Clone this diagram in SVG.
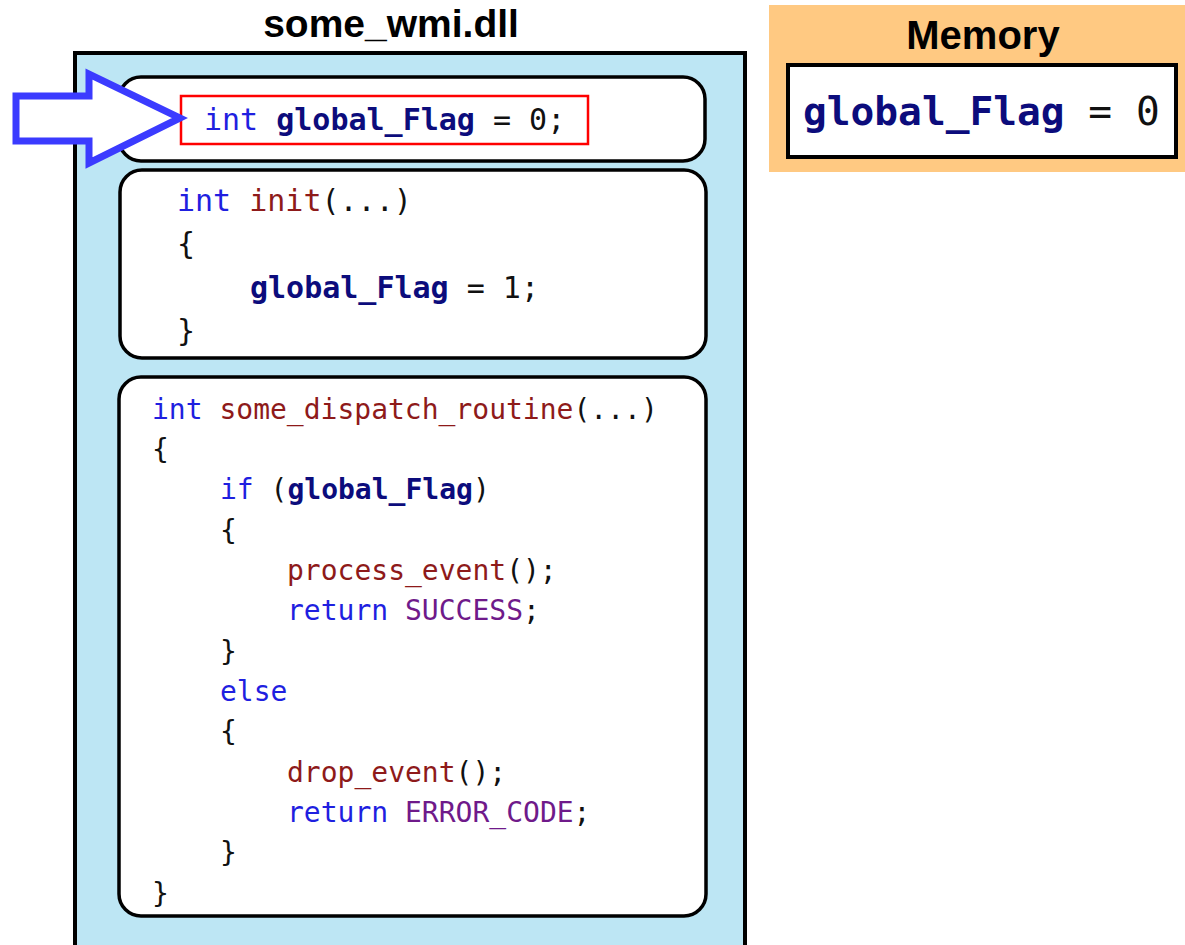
<svg xmlns="http://www.w3.org/2000/svg" width="1185" height="945" viewBox="0 0 1185 945">
<style>
.code{font-family:"DejaVu Sans Mono","Liberation Mono",monospace;white-space:pre}
.kw{fill:#1f1fe0}
.fn{fill:#8e1a1a}
.var{fill:#0c0c7c;font-weight:bold}
.cst{fill:#6f1a8a}
.p{fill:#111}
.title{font-family:"Liberation Sans",Arial,sans-serif;font-weight:bold;fill:#000}
.blk{fill:#fff;stroke:#000;stroke-width:3.5}
</style>
<rect width="1185" height="945" fill="#fff"/>
<g id="dll">
<text class="title" x="391" y="37" font-size="39" text-anchor="middle">some_wmi.dll</text>
<rect x="75" y="53" width="670" height="900" fill="#bde6f4" stroke="#000" stroke-width="4"/>
</g>
<g id="global-decl">
<rect class="blk" x="119" y="77" width="586" height="84" rx="22"/>
<rect x="181" y="96" width="407" height="48" fill="#fff" stroke="#f00" stroke-width="2.5"/>
<text class="code" x="204" y="130" font-size="30" xml:space="preserve"><tspan class="kw">int</tspan> <tspan class="var">global_Flag</tspan><tspan class="p"> = 0;</tspan></text>
</g>
<g id="init-func">
<rect class="blk" x="120" y="170" width="586" height="188" rx="22"/>
<text class="code" font-size="30" xml:space="preserve"><tspan x="177" y="211"><tspan class="kw">int</tspan> <tspan class="fn">init</tspan><tspan class="p">(...)</tspan></tspan><tspan class="p" x="177" y="254">{</tspan><tspan x="250" y="298"><tspan class="var">global_Flag</tspan><tspan class="p"> = 1;</tspan></tspan><tspan class="p" x="177" y="341">}</tspan></text>
</g>
<g id="dispatch-func">
<rect class="blk" x="119" y="377" width="587" height="539" rx="22"/>
<text class="code" font-size="28" xml:space="preserve"><tspan x="152" y="419"><tspan class="kw">int</tspan> <tspan class="fn">some_dispatch_routine</tspan><tspan class="p">(...)</tspan></tspan><tspan class="p" x="152" y="459">{</tspan><tspan x="220" y="499"><tspan class="kw">if</tspan><tspan class="p"> (</tspan><tspan class="var">global_Flag</tspan><tspan class="p">)</tspan></tspan><tspan class="p" x="220" y="540">{</tspan><tspan x="287" y="580"><tspan class="fn">process_event</tspan><tspan class="p">();</tspan></tspan><tspan x="287" y="620"><tspan class="kw">return</tspan> <tspan class="cst">SUCCESS</tspan><tspan class="p">;</tspan></tspan><tspan class="p" x="220" y="661">}</tspan><tspan class="kw" x="220" y="701">else</tspan><tspan class="p" x="220" y="741">{</tspan><tspan x="287" y="782"><tspan class="fn">drop_event</tspan><tspan class="p">();</tspan></tspan><tspan x="287" y="822"><tspan class="kw">return</tspan> <tspan class="cst">ERROR_CODE</tspan><tspan class="p">;</tspan></tspan><tspan class="p" x="220" y="862">}</tspan><tspan class="p" x="152" y="903">}</tspan></text>
</g>
<g id="memory">
<rect x="769" y="5" width="420" height="167" fill="#ffc982"/>
<text class="title" x="983" y="49" font-size="40" text-anchor="middle">Memory</text>
<rect x="788" y="65" width="388" height="92" fill="#fff" stroke="#000" stroke-width="4"/>
<text class="code" x="803" y="125" font-size="39.5" xml:space="preserve"><tspan class="var">global_Flag</tspan><tspan class="p"> = 0</tspan></text>
</g>
<g id="connectors">
<polygon points="16,96 89,96 89,74 180,118 89,163 89,141 16,141" fill="#fff" stroke="#3b3bff" stroke-width="7" stroke-linejoin="miter"/>
</g>
</svg>
